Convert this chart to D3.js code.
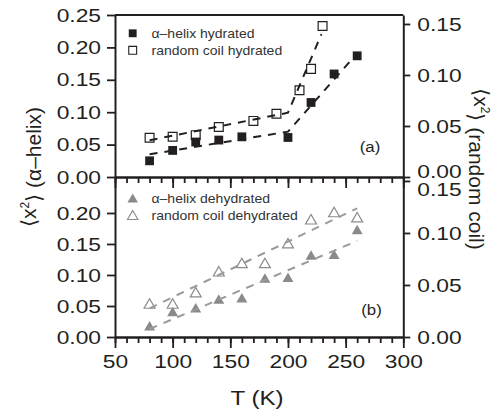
<!DOCTYPE html>
<html><head><meta charset="utf-8">
<script src="https://cdn.jsdelivr.net/npm/d3@7"></script>
<style>body{margin:0;background:#fff}svg{display:block}</style>
</head><body><svg id="c" width="504" height="414"></svg>
<script>
// ---------- data ----------
const tAlphaHyd = [80,100,120,140,160,200,220,240,260];
const alphaHyd  = [0.025,0.041,0.054,0.057,0.062,0.061,0.115,0.159,0.187];
const tCoilHyd  = [80,100,120,140,170,190,210,220,230];
const coilHyd   = [0.0385,0.0395,0.041,0.049,0.055,0.062,0.085,0.106,0.148];
const fitAlphaHydT = [80,200,260];
const fitAlphaHyd  = [0.035,0.070,0.191];
const fitCoilHydT  = [80,200,229];
const fitCoilHyd   = [0.036,0.063,0.140];

const tDeh       = [80,100,120,140,160,180,200,220,240,260];
const alphaDeh   = [0.018,0.041,0.047,0.061,0.063,0.095,0.096,0.132,0.133,0.173];
const coilDeh    = [0.032,0.032,0.043,0.063,0.071,0.071,0.090,0.113,0.120,0.115];
const fitAlphaDehT = [80,260];
const fitAlphaDeh  = [0.0129,0.155];
const fitCoilDehT  = [80,260];
const fitCoilDeh   = [0.0276,0.1237];

const xMajor = [50,100,150,200,250,300];
const xMinor = d3.range(50,301,10);
const yLeftTopTicks = [0,0.05,0.10,0.15,0.20,0.25];
const yLeftBotTicks = [0,0.05,0.10,0.15,0.20];
const yRightTicks = [0,0.05,0.10,0.15];
const legendTop = ["\u03b1\u2013helix hydrated","random coil hydrated"];
const legendBot = ["\u03b1\u2013helix dehydrated","random coil dehydrated"];

// ---------- setup ----------
const FONT = "'Liberation Sans', Arial, Helvetica, sans-serif";
const TXT = "#231f20";
const GRAY = "#8a8a8a";
const svg = d3.select("#c").style("font-family", FONT);

const x   = d3.scaleLinear().domain([50,300]).range([115,403.3]);
const yTL = d3.scaleLinear().domain([0,0.25]).range([177,15]);
const yTR = d3.scaleLinear().domain([0,0.1588]).range([177,15]);
const yBL = d3.scaleLinear().domain([0,0.258]).range([337,177]);
const yBR = d3.scaleLinear().domain([0,0.1538]).range([337,177]);

function stretch(sel, s){
  sel.each(function(){
    const t = d3.select(this);
    const ax = +t.attr("x") || 0, ay = +t.attr("y") || 0;
    t.attr("transform", `translate(${ax},${ay}) scale(${s},1) translate(${-ax},${-ay})`);
  });
}
function styleAxis(g, fs){
  g.select(".domain").attr("stroke", TXT).attr("stroke-width", 2);
  g.selectAll(".tick line").attr("stroke", TXT).attr("stroke-width", 1.8);
  g.selectAll(".tick text").attr("fill", TXT).style("font-size", fs+"px").style("font-family", FONT);
}
const f2 = d3.format(".2f");

// ---------- axes ----------
const gTL = svg.append("g").attr("transform","translate(115,0)")
  .call(d3.axisLeft(yTL).tickValues(yLeftTopTicks).tickFormat(f2).tickSize(8).tickSizeOuter(0).tickPadding(6));
const gBL = svg.append("g").attr("transform","translate(115,0)")
  .call(d3.axisLeft(yBL).tickValues(yLeftBotTicks).tickFormat(f2).tickSize(8).tickSizeOuter(0).tickPadding(6));
const gTR = svg.append("g").attr("transform","translate(403.3,0)")
  .call(d3.axisRight(yTR).tickValues(yRightTicks).tickFormat(f2).tickSize(7).tickSizeOuter(0).tickPadding(7));
const gBR = svg.append("g").attr("transform","translate(403.3,0)")
  .call(d3.axisRight(yBR).tickValues(yRightTicks).tickFormat(f2).tickSize(7).tickSizeOuter(0).tickPadding(7));
[gTL,gBL,gTR,gBR].forEach(g=>{ styleAxis(g,19); stretch(g.selectAll(".tick text"),1.2); });
// nudge the crowded right-hand labels at the panel junction
gTR.selectAll(".tick text").filter(d=>d===0).attr("dy","0.02em");
gBR.selectAll(".tick text").filter(d=>d===0.15).attr("dy","0.74em");

function xAxes(y, labels){
  const gMin = svg.append("g").attr("transform",`translate(0,${y})`)
    .call(d3.axisBottom(x).tickValues(xMinor).tickFormat("").tickSize(6).tickSizeOuter(0));
  styleAxis(gMin,19);
  const gMaj = svg.append("g").attr("transform",`translate(0,${y})`)
    .call(d3.axisBottom(x).tickValues(xMajor).tickFormat(labels ? d3.format("d") : "").tickSize(11).tickSizeOuter(0).tickPadding(7));
  styleAxis(gMaj,19);
  if (labels) stretch(gMaj.selectAll(".tick text"),1.2);
}
xAxes(177,false);
xAxes(337,true);
// top frame line
svg.append("line").attr("x1",x(50)).attr("x2",x(300)).attr("y1",yTL(0.25)).attr("y2",yTL(0.25))
  .attr("stroke",TXT).attr("stroke-width",2);

// ---------- fits ----------
const line = (ys) => d3.line().x(d=>x(d[0])).y(d=>ys(d[1]));
function fit(ts, vs, ys, color){
  svg.append("path").datum(ts.map((t,i)=>[t,vs[i]]))
    .attr("d", line(ys)).attr("fill","none").attr("stroke",color)
    .attr("stroke-width",2).attr("stroke-dasharray","8,7");
}

// ---------- markers ----------
const sq = d3.symbol().type(d3.symbolSquare).size(78);
const tri = d3.symbol().type(d3.symbolTriangle).size(52);
function marks(ts, vs, ys, sym, fill, stroke, dy){
  svg.append("g").selectAll("path").data(ts.map((t,i)=>[t,vs[i]])).join("path")
    .attr("d", sym)
    .attr("transform", d=>`translate(${x(d[0])},${ys(d[1])+dy})`)
    .attr("fill", fill).attr("stroke", stroke).attr("stroke-width", stroke==="none"?0:1.2);
}
marks(tAlphaHyd, alphaHyd, yTL, sq, TXT, "none", 0);
marks(tCoilHyd, coilHyd, yTR, sq, "none", TXT, 0);
fit(fitAlphaHydT, fitAlphaHyd, yTL, TXT);
fit(fitCoilHydT, fitCoilHyd, yTR, TXT);

marks(tDeh, alphaDeh, yBL, tri, GRAY, "none", 1.4);
marks(tDeh, coilDeh, yBR, tri, "none", GRAY, 1.4);
fit(fitAlphaDehT, fitAlphaDeh, yBL, "#9a9a9a");
fit(fitCoilDehT, fitCoilDeh, yBR, "#9a9a9a");

// ---------- legends ----------
function legend(items, y0, symFilled, col){
  const legSym = d3.symbol().type(symFilled).size(symFilled===d3.symbolSquare?62:48);
  items.forEach((lab,i)=>{
    const y = y0 + i*17;
    svg.append("path").attr("d", legSym).attr("transform",`translate(132.7,${y + (symFilled===d3.symbolTriangle?1.2:0)})`)
      .attr("fill", i===0 ? col : "none").attr("stroke", i===0 ? "none" : col).attr("stroke-width",1.1);
    const t = svg.append("text").attr("x",151.5).attr("y",y).attr("dy","0.35em")
      .attr("fill","#333").style("font-size","12.5px").text(lab);
    stretch(t,1.12);
  });
}
legend(legendTop, 33.3, d3.symbolSquare, TXT);
legend(legendBot, 198.3, d3.symbolTriangle, GRAY);

// panel tags
[["(a)",370,147],["(b)",371.5,310]].forEach(([s,px,py])=>{
  const t = svg.append("text").attr("x",px).attr("y",py).attr("dy","0.35em").attr("text-anchor","middle")
    .attr("fill",TXT).style("font-size","15px").text(s);
  stretch(t,1.12);
});

// ---------- axis titles ----------
const xt = svg.append("text").attr("x",257).attr("y",405).attr("text-anchor","middle")
  .attr("fill",TXT).style("font-size","21px").text("T (K)");
stretch(xt,1.15);

function ylab(tx, ty, rot, rest){
  const t = svg.append("text").attr("transform",`translate(${tx},${ty}) rotate(${rot})`)
    .attr("text-anchor","middle").attr("fill",TXT).style("font-size","21px");
  t.append("tspan").text("\u27e8x");
  t.append("tspan").attr("dy","-0.55em").style("font-size","12px").text("2");
  t.append("tspan").attr("dy","0.55em").text("\u27e9 " + rest);
}
ylab(36, 167, -90, "(\u03b1\u2013helix)");
ylab(474, 169, 90, "(random coil)");
</script>
</body></html>
